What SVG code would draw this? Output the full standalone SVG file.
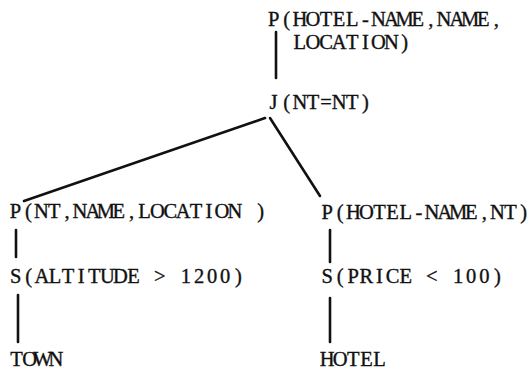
<svg xmlns="http://www.w3.org/2000/svg" width="532" height="371" viewBox="0 0 532 371">
<style>
.t{font-family:'Liberation Serif','DejaVu Serif','Times New Roman',serif;font-size:20.5px;fill:#111;stroke:#111;stroke-width:0.35;text-anchor:middle}
.c{stroke:#111;stroke-width:2.6;stroke-linecap:round;fill:none}
</style>
<rect width="532" height="371" fill="#fff"/>
<g id="connectors">
<line class="c" x1="276" y1="32" x2="276" y2="78"/>
<line class="c" x1="265" y1="118" x2="24" y2="201"/>
<line class="c" x1="270" y1="118" x2="320" y2="196"/>
<line class="c" x1="16" y1="230" x2="16" y2="257"/>
<line class="c" x1="330" y1="230" x2="330" y2="262"/>
<line class="c" x1="18" y1="295" x2="18" y2="342"/>
<line class="c" x1="330" y1="298" x2="330" y2="342"/>
</g>
<g id="project-top">
<text class="t" y="26" x="273.6 286.7 299.8 312.9 326 339.1 352.2 365.3 378.4 391.5 404.6 417.7 430.8 443.9 457 470.1 483.2 496.3">P(HOTEL-NAME,NAME,</text>
<text class="t" y="49" x="299.8 312.9 326 339.1 352.2 365.3 378.4 391.5 404.6">LOCATION)</text>
</g>
<g id="join">
<text class="t" y="109" x="273.6 286.7 299.8 312.9 326 339.1 352.2 365.3">J(NT=NT)</text>
</g>
<g id="project-town">
<text class="t" y="218" x="15.5 28.4 41.3 54.2 67.1 80 92.9 105.8 118.7 131.6 144.5 157.4 170.3 183.2 196.1 209 221.9 234.8 247.7 260.6">P(NT,NAME,LOCATION )</text>
</g>
<g id="project-hotel">
<text class="t" y="219" x="327.1 340.2 353.3 366.4 379.5 392.6 405.7 418.8 431.9 445 458.1 471.2 484.3 497.4 510.5 523.6">P(HOTEL-NAME,NT)</text>
</g>
<g id="select-town">
<text class="t" y="283" x="15.6 28.7 41.8 54.9 68 81.1 94.2 107.3 120.4 133.5 146.6 159.7 172.8 185.9 199 212.1 225.2 238.3">S(ALTITUDE &gt; 1200)</text>
</g>
<g id="select-hotel">
<text class="t" y="283" x="327.1 340.2 353.3 366.4 379.5 392.6 405.7 418.8 431.9 445 458.1 471.2 484.3 497.4">S(PRICE &lt; 100)</text>
</g>
<g id="town">
<text class="t" y="366" x="16.6 29.7 42.8 55.9">TOWN</text>
</g>
<g id="hotel">
<text class="t" y="366" x="327.1 340.2 353.3 366.4 379.5">HOTEL</text>
</g>
</svg>
